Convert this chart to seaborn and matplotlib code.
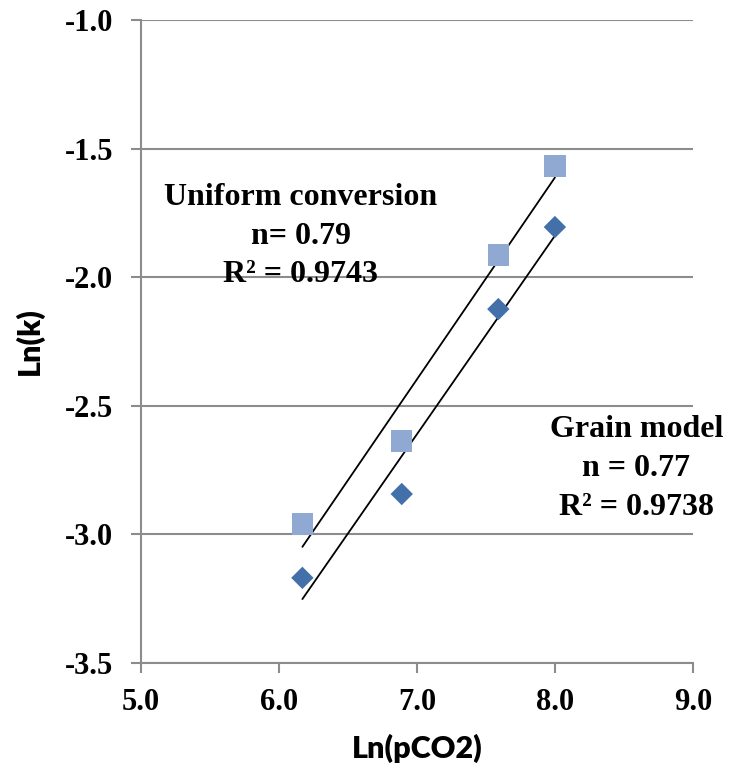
import numpy as np
import matplotlib
matplotlib.use("Agg")
import matplotlib.pyplot as plt
import seaborn as sns

# Ln(pCO2) values shared by both series
ln_pco2 = [6.17, 6.89, 7.59, 8.00]
# Ln(k) for each kinetic model
ln_k_uniform = [-2.96, -2.637, -1.914, -1.568]
ln_k_grain = [-3.169, -2.843, -2.124, -1.805]

x_ticks = [5.0, 6.0, 7.0, 8.0, 9.0]
y_ticks = [-3.5, -3.0, -2.5, -2.0, -1.5, -1.0]

sns.set_style("white")
plt.rcParams["font.family"] = ["Liberation Serif", "DejaVu Serif"]
plt.rcParams["text.color"] = "black"
plt.rcParams["xtick.color"] = "black"
plt.rcParams["ytick.color"] = "black"

fig = plt.figure(figsize=(7.34, 7.72), dpi=100)
ax = fig.add_axes([0.192, 0.1412, 0.752, 0.8329])

grid_col = "#8c8c8c"
for yt in y_ticks:
    ax.axhline(yt, color=grid_col, lw=1.5, zorder=0)

# trend lines (least squares fit, like the Excel trendline)
for yy in (ln_k_uniform, ln_k_grain):
    sns.regplot(x=ln_pco2, y=yy, ax=ax, ci=None, scatter=False,
                line_kws=dict(color="black", lw=1.3, zorder=2))

sns.scatterplot(x=ln_pco2, y=ln_k_uniform, ax=ax, marker="s", s=240,
                color="#8FA9D3", edgecolor="none", zorder=3)
sns.scatterplot(x=ln_pco2, y=ln_k_grain, ax=ax, marker="D", s=130,
                color="#4470A9", edgecolor="none", zorder=4)

ax.set_xlim(5.0, 9.0)
ax.set_ylim(-3.5, -1.0)
ax.set_xticks(x_ticks)
ax.set_yticks(y_ticks)
ax.set_xticklabels([f"{v:.1f}" for v in x_ticks], fontsize=22, fontweight="bold")
ax.set_yticklabels([f"{v:.1f}" for v in y_ticks], fontsize=22, fontweight="bold")
ax.tick_params(axis="both", direction="out", length=7, width=1.5, color=grid_col,
               labelcolor="black", left=True, bottom=True)
ax.tick_params(axis="y", pad=13)
ax.tick_params(axis="x", pad=11)

for s in ("top", "right"):
    ax.spines[s].set_visible(False)
for s in ("left", "bottom"):
    ax.spines[s].set_color(grid_col)
    ax.spines[s].set_linewidth(1.5)

lab_font = dict(family=["Lato", "DejaVu Sans"], fontsize=22, fontweight="heavy",
                color="black")
ax.set_xlabel("Ln(pCO2)", labelpad=12, **lab_font)
ax.set_ylabel("Ln(k)", labelpad=15, **lab_font)

txt = dict(fontsize=23, fontweight="bold", ha="center", va="center",
           linespacing=1.45, color="black")
ax.text(6.16, -1.84, "Uniform conversion\nn= 0.79\nR² = 0.9743", **txt)
ax.text(8.59, -2.745, "Grain model\nn = 0.77\nR² = 0.9738", **txt)

fig.savefig("out.png", dpi=100)
